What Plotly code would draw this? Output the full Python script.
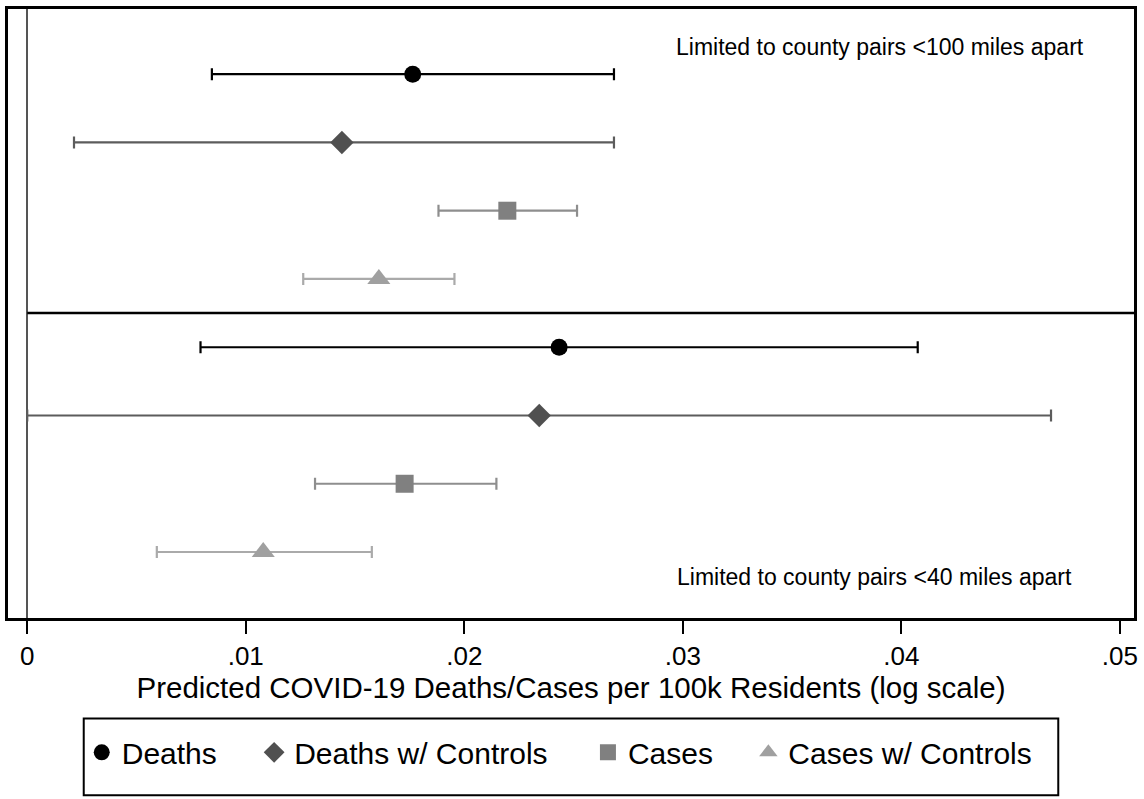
import plotly.graph_objects as go

# ---- data ----
series = ["Deaths", "Deaths w/ Controls", "Cases", "Cases w/ Controls"]
panels = ["Limited to county pairs <100 miles apart", "Limited to county pairs <40 miles apart"]

est_100 = [0.01764, 0.01440, 0.02197, 0.01609]
lo_100 = [0.00845, 0.00214, 0.01882, 0.01263]
hi_100 = [0.02685, 0.02685, 0.02516, 0.01955]

est_40 = [0.02434, 0.02343, 0.01727, 0.01080]
lo_40 = [0.00793, 0.00000, 0.01317, 0.00593]
hi_40 = [0.04075, 0.04685, 0.02147, 0.01577]

tick_vals = [0, 0.01, 0.02, 0.03, 0.04, 0.05]
tick_text = ["0", ".01", ".02", ".03", ".04", ".05"]

# ---- styles ----
marker_symbols = ["circle", "diamond", "square", "triangle-up"]
marker_sizes = [17, 18, 18, 20]
marker_colors = ["#000000", "#505050", "#808080", "#a0a0a0"]
bar_colors = ["#000000", "#5c5c5c", "#8e8e8e", "#aaaaaa"]
legend_symbol_px = [103, 276, 611, 772]
FONT = "Arial, Liberation Sans, sans-serif"

W, H = 1144, 799
L, R, T, B = 8, 6, 6, 181
plot_w = W - L - R
plot_h = H - T - B

x0_px = 27.3
px_per_unit = 21930.0
x_range = [(L - x0_px) / px_per_unit, (W - R - x0_px) / px_per_unit]

row0_px, row_step = 71.5, 68.6
y_top = (T - row0_px) / row_step
y_bot = (H - B - row0_px) / row_step


def px_to_paper_x(px):
    return (px - L) / plot_w


def px_to_paper_y(py):
    return (H - B - py) / plot_h


fig = go.Figure()
n = len(series)
legend_names = ["legend", "legend2", "legend3", "legend4"]
for i, name in enumerate(series):
    xs = [est_100[i], est_40[i]]
    ys = [i, n + i]
    plus = [hi_100[i] - est_100[i], hi_40[i] - est_40[i]]
    minus = [est_100[i] - lo_100[i], est_40[i] - lo_40[i]]
    fig.add_trace(go.Scatter(
        x=xs, y=ys, mode="markers", name=name, legend=legend_names[i],
        marker=dict(symbol=marker_symbols[i], size=marker_sizes[i],
                    color=marker_colors[i], line=dict(width=0)),
        error_x=dict(type="data", array=plus, arrayminus=minus, symmetric=False,
                     color=bar_colors[i], thickness=2.2, width=6),
    ))

# divider between the two panels
fig.add_shape(type="line", xref="x", yref="y", x0=0, x1=x_range[1],
              y0=(n - 1 + n) / 2, y1=(n - 1 + n) / 2,
              line=dict(color="black", width=2.5), layer="above")

# panel labels
fig.add_annotation(x=(1090 - x0_px) / px_per_unit, y=(44 - row0_px) / row_step,
                   xref="x", yref="y", text=panels[0], showarrow=False,
                   xanchor="right", yanchor="middle",
                   font=dict(family=FONT, size=23, color="black"))
fig.add_annotation(x=(1078 - x0_px) / px_per_unit, y=(577 - row0_px) / row_step,
                   xref="x", yref="y", text=panels[1], showarrow=False,
                   xanchor="right", yanchor="middle",
                   font=dict(family=FONT, size=23, color="black"))

# legend frame
fig.add_shape(type="rect", xref="paper", yref="paper",
              x0=px_to_paper_x(84), x1=px_to_paper_x(1062),
              y0=px_to_paper_y(796), y1=px_to_paper_y(719),
              line=dict(color="black", width=2), fillcolor="rgba(0,0,0,0)")

legend_common = dict(orientation="h", xanchor="left", yanchor="middle",
                     y=px_to_paper_y(753),
                     font=dict(family=FONT, size=30, color="black"),
                     bgcolor="rgba(0,0,0,0)", borderwidth=0, itemsizing="trace")
legends = {}
for i, ln in enumerate(legend_names):
    legends[ln] = dict(legend_common, x=px_to_paper_x(legend_symbol_px[i] - 21))

fig.update_layout(
    width=W, height=H,
    margin=dict(l=L, r=R, t=T, b=B, pad=0),
    plot_bgcolor="white", paper_bgcolor="white",
    font=dict(family=FONT, color="black"),
    showlegend=True,
    xaxis=dict(range=x_range, tickvals=tick_vals, ticktext=tick_text,
               ticks="outside", ticklen=13, tickwidth=2, tickcolor="black",
               tickfont=dict(family=FONT, size=26, color="black"),
               showgrid=False, zeroline=True, zerolinecolor="#555555", zerolinewidth=2,
               showline=True, mirror=True, linecolor="black", linewidth=2.5,
               title=dict(text="Predicted COVID-19 Deaths/Cases per 100k Residents (log scale)",
                          font=dict(family=FONT, size=29.5, color="black"), standoff=4)),
    yaxis=dict(range=[y_bot, y_top], showticklabels=False, ticks="",
               showgrid=False, zeroline=False,
               showline=True, mirror=True, linecolor="black", linewidth=2.5),
    **legends,
)

fig.write_html("out.html",
               config={"displayModeBar": False},
               post_script="document.body.style.margin='0';document.body.style.overflow='hidden';")
